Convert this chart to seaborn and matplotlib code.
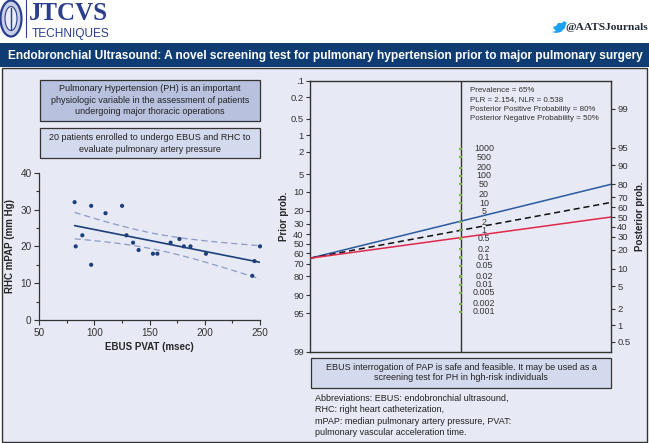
import numpy as np
import pandas as pd
import matplotlib
matplotlib.use("Agg")
import matplotlib.pyplot as plt
import seaborn as sns
from matplotlib.patches import Rectangle, Ellipse, Polygon
from matplotlib.transforms import blended_transform_factory

# ---------------- data ----------------
pvat = [82, 83, 89, 97, 97, 110, 125, 129, 135, 140, 153, 157, 169, 177, 181, 187, 201, 243, 245, 250]
mpap = [32, 20, 23, 31, 15, 29, 31, 23, 21, 19, 18, 18, 21, 22, 20, 20, 18, 12, 16, 20]

prevalence = 65
plr = 2.154
nlr = 0.538

prior_ticks = [0.1, 0.2, 0.5, 1, 2, 5, 10, 20, 30, 40, 50, 60, 70, 80, 90, 95, 99]
prior_labels = ['.1', '0.2', '0.5', '1', '2', '5', '10', '20', '30', '40', '50', '60', '70', '80', '90', '95', '99']
post_ticks = [99, 95, 90, 80, 70, 60, 50, 40, 30, 20, 10, 5, 2, 1, 0.5]
post_labels = ['99', '95', '90', '80', '70', '60', '50', '40', '30', '20', '10', '5', '2', '1', '0.5']
lr_ticks = [1000, 500, 200, 100, 50, 20, 10, 5, 2, 1, 0.5, 0.2, 0.1, 0.05, 0.02, 0.01, 0.005, 0.002, 0.001]
lr_labels = ['1000', '500', '200', '100', '50', '20', '10', '5', '2', '1', '0.5', '0.2', '0.1',
             '0.05', '0.02', '0.01', '0.005', '0.002', '0.001']

title = "Endobronchial Ultrasound: A novel screening test for pulmonary hypertension prior to major pulmonary surgery"
box1_lines = ["Pulmonary Hypertension (PH) is an important",
              "physiologic variable in the assessment of patients",
              "undergoing major thoracic operations"]
box2_lines = ["20 patients enrolled to undergo EBUS and RHC to",
              "evaluate pulmonary artery pressure"]
box3_lines = ["EBUS interrogation of PAP is safe and feasible. It may be used as a",
              "screening test for PH in hgh-risk individuals"]
abbrev_lines = ["Abbreviations: EBUS: endobronchial ultrasound,",
                "RHC: right heart catheterization,",
                "mPAP: median pulmonary artery pressure, PVAT:",
                "pulmonary vascular acceleration time."]
info_lines = ["Prevalence = 65%",
              "PLR = 2.154, NLR = 0.538",
              "Posterior Positive Probability = 80%",
              "Posterior Negative Probability = 50%"]

# ---------------- style ----------------
sns.set_theme(style="ticks")
plt.rcParams['font.family'] = ['Liberation Sans', 'DejaVu Sans']
plt.rcParams['axes.edgecolor'] = '#333333'
plt.rcParams['xtick.color'] = '#333333'
plt.rcParams['ytick.color'] = '#333333'
plt.rcParams['text.color'] = '#222222'

W, H = 649, 443
fig = plt.figure(figsize=(W / 100, H / 100), dpi=100)
fig.patch.set_facecolor('white')

NAVY = '#2b3f8c'
PANEL = '#e7e9f4'


def fx(x):
    return x / W


def fy(y):
    return 1 - y / H


def rect(x0, y0, x1, y1, **kw):
    r = Rectangle((fx(x0), fy(y1)), fx(x1) - fx(x0), fy(y0) - fy(y1),
                  transform=fig.transFigure, **kw)
    fig.add_artist(r)
    return r


def lines_text(lines, x, ys, **kw):
    for t, y in zip(lines, ys):
        fig.text(fx(x), fy(y), t, va='center', **kw)


# ---------------- header ----------------
fig.add_artist(Ellipse((fx(11), fy(18.5)), fx(21), 36 / H, transform=fig.transFigure,
                       facecolor='#c8cfe6', edgecolor=NAVY, lw=1.6))
fig.add_artist(Ellipse((fx(11), fy(18.5)), fx(12), 24 / H, transform=fig.transFigure,
                       facecolor='#e9ecf6', edgecolor=NAVY, lw=0.8))
fig.add_artist(plt.Line2D([fx(11), fx(11)], [fy(8), fy(29)], transform=fig.transFigure,
                          color=NAVY, lw=1.0))
fig.add_artist(plt.Line2D([fx(26), fx(26)], [fy(0), fy(37)], transform=fig.transFigure,
                          color=NAVY, lw=0.8))
fig.text(fx(29), fy(20), 'JTCVS', fontfamily='Liberation Serif', fontweight='bold',
         fontsize=18, color=NAVY, va='baseline', ha='left')
fig.text(fx(31.5), fy(37), 'TECHNIQUES', fontsize=8.6, color=NAVY, va='baseline', ha='left')

# twitter bird (simple shape)
bird = [(553, 27), (556, 26), (558, 23), (562, 23), (564, 21), (566, 22.5), (567, 22),
        (566, 24), (565, 28), (561, 32), (556, 33), (552, 32), (556, 31), (554, 29)]
fig.add_artist(Polygon([(fx(a), fy(b)) for a, b in bird], closed=True,
                       transform=fig.transFigure, facecolor='#1da1f2', edgecolor='none'))
fig.text(fx(648), fy(30.5), '@AATSJournals', fontfamily='Liberation Serif', fontweight='bold',
         fontsize=8.2, color='#222a3a', va='baseline', ha='right')

# title bar
rect(0, 43, 649, 67, facecolor='#0f3d73', edgecolor='none', zorder=-10)
fig.text(fx(325), fy(55.5), title, color='white', fontweight='bold', fontsize=8.55,
         ha='center', va='center')

# content panel
rect(1.5, 68, 647.5, 441.5, facecolor=PANEL, edgecolor='#333333', lw=1.0, zorder=-10)

# left boxes
rect(40, 80, 260, 121, facecolor='#b8c2df', edgecolor='#333333', lw=0.9, zorder=-5)
lines_text(box1_lines, 150, [88.5, 100.2, 111.8], ha='center', fontsize=6.5)
rect(40, 128, 260, 158, facecolor='#d4daed', edgecolor='#333333', lw=0.9, zorder=-5)
lines_text(box2_lines, 150, [137.7, 149.3], ha='center', fontsize=6.5)

# bottom right box and abbreviations
rect(311, 358, 611, 388, facecolor='#d4daed', edgecolor='#333333', lw=0.9, zorder=-5)
lines_text(box3_lines, 461, [367.8, 378.0], ha='center', fontsize=6.5)
lines_text(abbrev_lines, 315, [398.3, 409.8, 421.0, 432.3], ha='left', fontsize=6.5)

# ---------------- scatter (left) ----------------
ax = fig.add_axes([fx(39.3), fy(320), fx(260) - fx(39.3), fy(172.7) - fy(320)])
ax.patch.set_alpha(0)
df = pd.DataFrame({'pvat': pvat, 'mpap': mpap})
navy_pt = '#1d3f7a'
sns.scatterplot(data=df, x='pvat', y='mpap', ax=ax, color=navy_pt, s=9, edgecolor='none',
                clip_on=False, zorder=3)

x = np.asarray(pvat, float)
y = np.asarray(mpap, float)
n = len(x)
b1, b0 = np.polyfit(x, y, 1)
xs = np.linspace(x.min(), x.max(), 100)
fit = b0 + b1 * xs
resid = y - (b0 + b1 * x)
s = np.sqrt(np.sum(resid ** 2) / (n - 2))
sxx = np.sum((x - x.mean()) ** 2)
tval = 2.101
half = tval * s * np.sqrt(1 / n + (xs - x.mean()) ** 2 / sxx)
fit_df = pd.DataFrame({'x': xs, 'fit': fit, 'lo': fit - half, 'hi': fit + half})
sns.lineplot(data=fit_df, x='x', y='fit', ax=ax, color=navy_pt, lw=1.2)
sns.lineplot(data=fit_df, x='x', y='lo', ax=ax, color='#8c9bc9', lw=0.9)
sns.lineplot(data=fit_df, x='x', y='hi', ax=ax, color='#8c9bc9', lw=0.9)
ax.lines[-1].set_dashes((5, 3))
ax.lines[-2].set_dashes((5, 3))

ax.set_xlim(50, 250)
ax.set_ylim(0, 40)
ax.set_xticks([50, 100, 150, 200, 250])
ax.set_xticks([75, 125, 175, 225], minor=True)
ax.set_yticks([0, 10, 20, 30, 40])
ax.set_yticks([5, 15, 25, 35], minor=True)
ax.tick_params(axis='both', which='major', length=3.5, width=0.8, labelsize=7.2, pad=2,
               labelcolor='#333333')
ax.tick_params(axis='both', which='minor', length=2, width=0.8)
sns.despine(ax=ax)
for sp in ['left', 'bottom']:
    ax.spines[sp].set_linewidth(0.9)
ax.set_xlabel('EBUS PVAT (msec)', fontsize=7, fontweight='bold', labelpad=3)
ax.set_ylabel('RHC mPAP (mm Hg)', fontsize=7, fontweight='bold', labelpad=4)

# ---------------- Fagan nomogram (right) ----------------
RIGHT_SHIFT = -1.128


def logit(p):
    p = np.asarray(p, float) / 100.0
    return np.log(p / (1 - p))


def y_left(p):
    return logit(p)


def y_right(p):
    return -logit(p) + RIGHT_SHIFT


def y_mid(lr):
    return RIGHT_SHIFT / 2 - np.log(np.asarray(lr, float)) / 2


axn = fig.add_axes([fx(310), fy(352), fx(611) - fx(310), fy(80.7) - fy(352)])
axn.patch.set_alpha(0)
axn.set_xlim(0, 1)
ylim = (float(logit(99)), float(logit(0.1)))
axn.set_ylim(*ylim)
axn.set_xticks([])
axn.set_yticks(y_left(prior_ticks))
axn.set_yticklabels(prior_labels)
axn.tick_params(axis='y', length=3, width=0.8, labelsize=6.8, pad=1.5, labelcolor='#333333')
for sp in axn.spines.values():
    sp.set_linewidth(1.0)

axr = axn.twinx()
axr.set_ylim(*ylim)
axr.set_yticks(y_right(post_ticks))
axr.set_yticklabels(post_labels)
axr.tick_params(axis='y', length=3, width=0.8, labelsize=6.8, pad=1.5, labelcolor='#333333')
axr.set_ylabel('Posterior prob.', fontsize=7, fontweight='bold', labelpad=3)
for sp in axr.spines.values():
    sp.set_visible(False)

# middle LR axis
axn.axvline(0.5, color='#333333', lw=1.0, zorder=2)
lr_df = pd.DataFrame({'x': [0.5] * len(lr_ticks), 'y': y_mid(lr_ticks)})
sns.scatterplot(data=lr_df, x='x', y='y', ax=axn, color='#7cb342', marker='s', s=2.5,
                edgecolor='none', zorder=4)
for v, lab in zip(lr_ticks, lr_labels):
    axn.text(0.578, float(y_mid(v)), lab, ha='center', va='center', fontsize=6.4, color='#333333')
axn.set_xlabel('')
axn.set_ylabel('Prior prob.', fontsize=7, fontweight='bold', labelpad=1)

# probability lines
post_pos = 100 / (1 + np.exp(-(logit(prevalence) + np.log(plr))))
post_neg = 100 / (1 + np.exp(-(logit(prevalence) + np.log(nlr))))
line_df = pd.DataFrame({
    'x': [0, 1, 0, 1, 0, 1],
    'y': [float(y_left(prevalence)), float(y_right(post_pos)),
          float(y_left(prevalence)), float(y_right(prevalence)),
          float(y_left(prevalence)), float(y_right(post_neg))],
    'kind': ['pos', 'pos', 'prior', 'prior', 'neg', 'neg']})
for kind, col in [('pos', '#2a5aa0'), ('prior', '#111111'), ('neg', '#e0284a')]:
    sub = line_df[line_df.kind == kind]
    ln, = axn.plot(sub.x, sub.y, color=col, lw=1.1, zorder=3)
    if kind == 'prior':
        ln.set_dashes((4, 2.5))

trans = blended_transform_factory(axn.transData, axn.transAxes)
for t, ypx in zip(info_lines, [90.0, 99.5, 109.2, 118.8]):
    axn.text(0.532, (352 - ypx) / (352 - 80.7), t, transform=trans, ha='left', va='center',
             fontsize=5.7, color='#333333')

fig.savefig('out.png', dpi=100)
